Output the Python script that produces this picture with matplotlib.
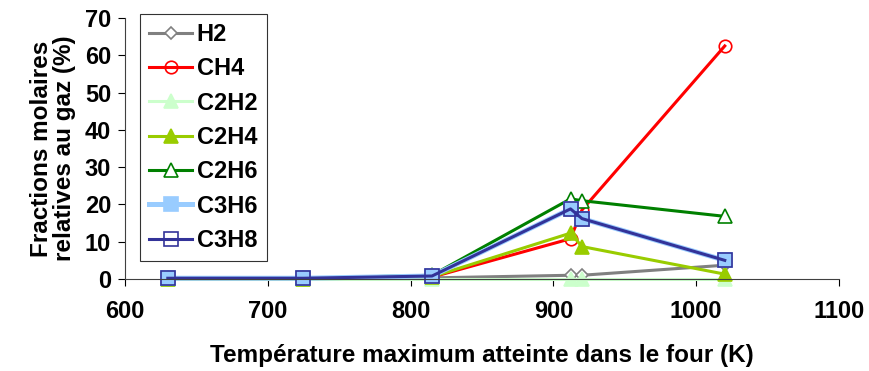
import matplotlib
matplotlib.use('Agg')
import matplotlib.pyplot as plt

plt.rcParams['font.family'] = ['Liberation Sans', 'DejaVu Sans']
plt.rcParams['font.weight'] = 'bold'

# temperatures (K)
temps = [630, 725, 815, 912, 920, 1020]

# molar fractions (%)
h2 = [0.1, 0.1, 0.3, 1.0, 1.0, 3.7]
ch4 = [0.1, 0.1, 0.5, 10.8, 18.5, 62.5]
c2h2 = [0.0, 0.0, 0.0, 0.0, 0.0, 0.0]
c2h4 = [0.1, 0.1, 0.6, 12.3, 8.7, 1.3]
c2h6 = [0.2, 0.2, 1.0, 21.5, 21.0, 16.8]
c3h6 = [0.2, 0.2, 0.8, 18.8, 16.2, 5.0]
c3h8 = [0.2, 0.2, 0.8, 18.8, 16.2, 5.0]

series = [
    ('H2', h2, dict(color='#808080', marker='D', mfc='white', mec='#808080', ms=6.5)),
    ('CH4', ch4, dict(color='#FF0000', marker='o', mfc='none', mec='#FF0000', ms=9)),
    ('C2H2', c2h2, dict(color='#CCFFCC', marker='^', mfc='#CCFFCC', mec='#CCFFCC', ms=10)),
    ('C2H4', c2h4, dict(color='#99CC00', marker='^', mfc='#99CC00', mec='#99CC00', ms=10)),
    ('C2H6', c2h6, dict(color='#008000', marker='^', mfc='white', mec='#008000', ms=10)),
    ('C3H6', c3h6, dict(color='#99CCFF', marker='s', mfc='#99CCFF', mec='#99CCFF', ms=9.5, lw=3.6)),
    ('C3H8', c3h8, dict(color='#333399', marker='s', mfc='none', mec='#333399', ms=9.5)),
]

fig = plt.figure(figsize=(8.69, 3.71), dpi=100)
ax = fig.add_axes([0.1438, 0.248, 0.8217, 0.7035])

for name, vals, style in series:
    lw = style.pop('lw', 2.2)
    ax.plot(temps, vals, label=name, lw=lw, mew=1.2, clip_on=False, **style)

ax.set_xlim(600, 1100)
ax.set_ylim(0, 70)
ax.set_xticks(range(600, 1101, 100))
ax.set_yticks(range(0, 71, 10))
ax.tick_params(direction='out', length=5, labelsize=17, width=0.8)
ax.tick_params(axis='x', pad=10)
ax.tick_params(axis='y', pad=5)
for lab in ax.get_xticklabels() + ax.get_yticklabels():
    lab.set_fontweight('bold')
for s in ['top', 'right']:
    ax.spines[s].set_visible(False)
ax.spines['left'].set_color('#404040')
ax.spines['bottom'].set_color('#404040')

ax.set_xlabel('Température maximum atteinte dans le four (K)', fontsize=17.5, fontweight='bold', labelpad=15)
ax.set_ylabel('Fractions molaires\nrelatives au gaz (%)', fontsize=17.5, fontweight='bold', labelpad=6,
              linespacing=1.0)

leg = ax.legend(loc='upper left', bbox_to_anchor=(0.021, 1.017), frameon=True,
                prop={'size': 17, 'weight': 'bold'},
                fancybox=False, edgecolor='black', handlelength=1.8, labelspacing=0.48,
                borderpad=0.4, handletextpad=0.2, borderaxespad=0)
leg.get_frame().set_linewidth(0.8)

fig.savefig('out.png', dpi=100)
